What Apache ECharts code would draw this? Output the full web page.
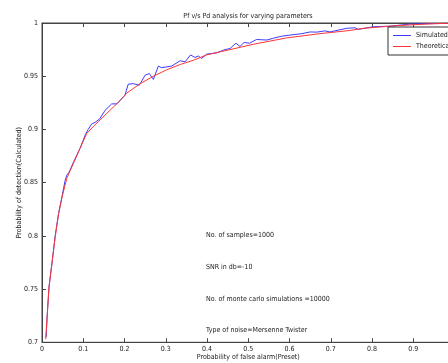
<!DOCTYPE html>
<html>
<head>
<meta charset="utf-8">
<script src="https://cdn.jsdelivr.net/npm/echarts@6/dist/echarts.min.js"></script>
<style>
  html, body { margin: 0; padding: 0; overflow: hidden; background: #fff; }
  #chart { width: 496px; height: 363px; }
</style>
</head>
<body>
<div id="chart"></div>
<script>
// simulated (blue) curve
var pfSim = [0.010, 0.013, 0.017, 0.025, 0.032, 0.040, 0.049, 0.056, 0.060, 0.066,
  0.076, 0.092, 0.105, 0.112, 0.120, 0.130, 0.140, 0.153, 0.169, 0.181,
  0.201, 0.209, 0.221, 0.236, 0.250, 0.260, 0.270, 0.282, 0.290, 0.314,
  0.335, 0.347, 0.360, 0.371, 0.379, 0.387, 0.399, 0.424, 0.444, 0.456,
  0.470, 0.480, 0.490, 0.503, 0.520, 0.545, 0.561, 0.581, 0.609, 0.630,
  0.650, 0.666, 0.686, 0.698, 0.718, 0.739, 0.759, 0.767, 0.803, 0.844,
  0.892, 0.950, 1.000];
var pdSim = [0.705, 0.728, 0.752, 0.777, 0.800, 0.821, 0.838, 0.852, 0.857, 0.860,
  0.869, 0.882, 0.895, 0.900, 0.905, 0.907, 0.910, 0.918, 0.924, 0.924,
  0.932, 0.9425, 0.943, 0.9416, 0.951, 0.9525, 0.947, 0.9595, 0.958, 0.9595,
  0.9645, 0.9635, 0.970, 0.9676, 0.969, 0.9667, 0.9707, 0.972, 0.975, 0.976,
  0.981, 0.978, 0.9817, 0.981, 0.9845, 0.984, 0.9857, 0.9876, 0.989, 0.990,
  0.9916, 0.9914, 0.9926, 0.9916, 0.9933, 0.995, 0.9955, 0.994, 0.9965, 0.997,
  0.999, 0.9995, 1.000];

// theoretical (red) curve
var pfTheory = [0.009, 0.013, 0.017, 0.025, 0.032, 0.040, 0.049, 0.060, 0.076, 0.092,
  0.108, 0.125, 0.141, 0.157, 0.173, 0.189, 0.205, 0.238, 0.270, 0.302,
  0.335, 0.367, 0.399, 0.432, 0.456, 0.512, 0.593, 0.674, 0.747, 0.779,
  0.860, 0.930, 1.000];
var pdTheory = [0.703, 0.727, 0.752, 0.777, 0.799, 0.820, 0.837, 0.854, 0.868, 0.882,
  0.896, 0.903, 0.909, 0.915, 0.921, 0.927, 0.934, 0.943, 0.950, 0.956,
  0.961, 0.965, 0.970, 0.973, 0.975, 0.980, 0.986, 0.990, 0.993, 0.995,
  0.9975, 0.999, 1.000];

var notes = [
  'No. of samples=1000',
  'SNR in db=-10',
  'No. of monte carlo simulations =10000',
  'Type of noise=Mersenne Twister'
];

var FONT = '"Liberation Sans Narrow", "DejaVu Sans Condensed", "Liberation Sans", Arial, sans-serif';
var FS = 7;
var AXIS = '#444';

function pairs(xs, ys) {
  return xs.map(function (x, i) { return [x, ys[i]]; });
}

var myChart = echarts.init(document.getElementById('chart'));
myChart.setOption({
  animation: false,
  textStyle: { fontFamily: FONT, fontSize: FS, color: '#222' },
  title: {
    text: 'Pf v/s Pd analysis for varying parameters',
    left: 'center',
    top: 8,
    textStyle: { fontFamily: FONT, fontSize: FS, fontWeight: 'normal', color: '#222' }
  },
  grid: {
    left: 42, right: 41.5, top: 23, bottom: 20.7,
    outerBoundsMode: 'none',
    containLabel: false,
    show: true, borderColor: AXIS, borderWidth: 1, backgroundColor: '#fff'
  },
  legend: {
    orient: 'vertical',
    left: 388,
    top: 27,
    padding: [5, 40, 5, 5],
    itemGap: 4,
    itemWidth: 18,
    itemHeight: 1,
    icon: 'rect',
    itemStyle: { borderWidth: 0 },
    backgroundColor: '#fff',
    borderColor: '#333',
    borderWidth: 1,
    borderRadius: 0,
    textStyle: { fontFamily: FONT, fontSize: FS, color: '#222' },
    data: ['Simulated', 'Theoretical']
  },
  xAxis: [{
    type: 'value',
    min: 0, max: 1, interval: 0.1,
    name: 'Probability of false alarm(Preset)',
    nameLocation: 'middle',
    nameGap: 11,
    nameMoveOverlap: false,
    nameTextStyle: { fontFamily: FONT, fontSize: FS, color: '#222' },
    splitLine: { show: false },
    axisLine: { lineStyle: { color: AXIS } },
    axisTick: { inside: true, length: 4, lineStyle: { color: AXIS } },
    axisLabel: { margin: 3, fontFamily: FONT, fontSize: FS, color: '#222' }
  }, {
    type: 'value',
    position: 'top',
    min: 0, max: 1, interval: 0.1,
    splitLine: { show: false },
    axisLine: { lineStyle: { color: AXIS } },
    axisTick: { inside: true, length: 4, lineStyle: { color: AXIS } },
    axisLabel: { show: false }
  }],
  yAxis: {
    type: 'value',
    min: 0.7, max: 1, interval: 0.05,
    name: 'Probability of detection(Calculated)',
    nameLocation: 'middle',
    nameGap: 19,
    nameMoveOverlap: false,
    nameTextStyle: { fontFamily: FONT, fontSize: FS, color: '#222' },
    splitLine: { show: false },
    axisLine: { lineStyle: { color: AXIS } },
    axisTick: { inside: true, length: 4, lineStyle: { color: AXIS } },
    axisLabel: { margin: 4, fontFamily: FONT, fontSize: FS, color: '#222' }
  },
  graphic: notes.map(function (t, i) {
    return {
      type: 'text',
      left: 206,
      top: 232 + i * 31.7,
      style: { text: t, fontFamily: FONT, fontSize: FS, fill: '#222' }
    };
  }),
  series: [{
    name: 'Simulated',
    type: 'line',
    data: pairs(pfSim, pdSim),
    symbol: 'none',
    color: '#3c3cff',
    lineStyle: { width: 1 }
  }, {
    name: 'Theoretical',
    type: 'line',
    data: pairs(pfTheory, pdTheory),
    symbol: 'none',
    color: '#ff3434',
    lineStyle: { width: 1 }
  }]
});
</script>
</body>
</html>
